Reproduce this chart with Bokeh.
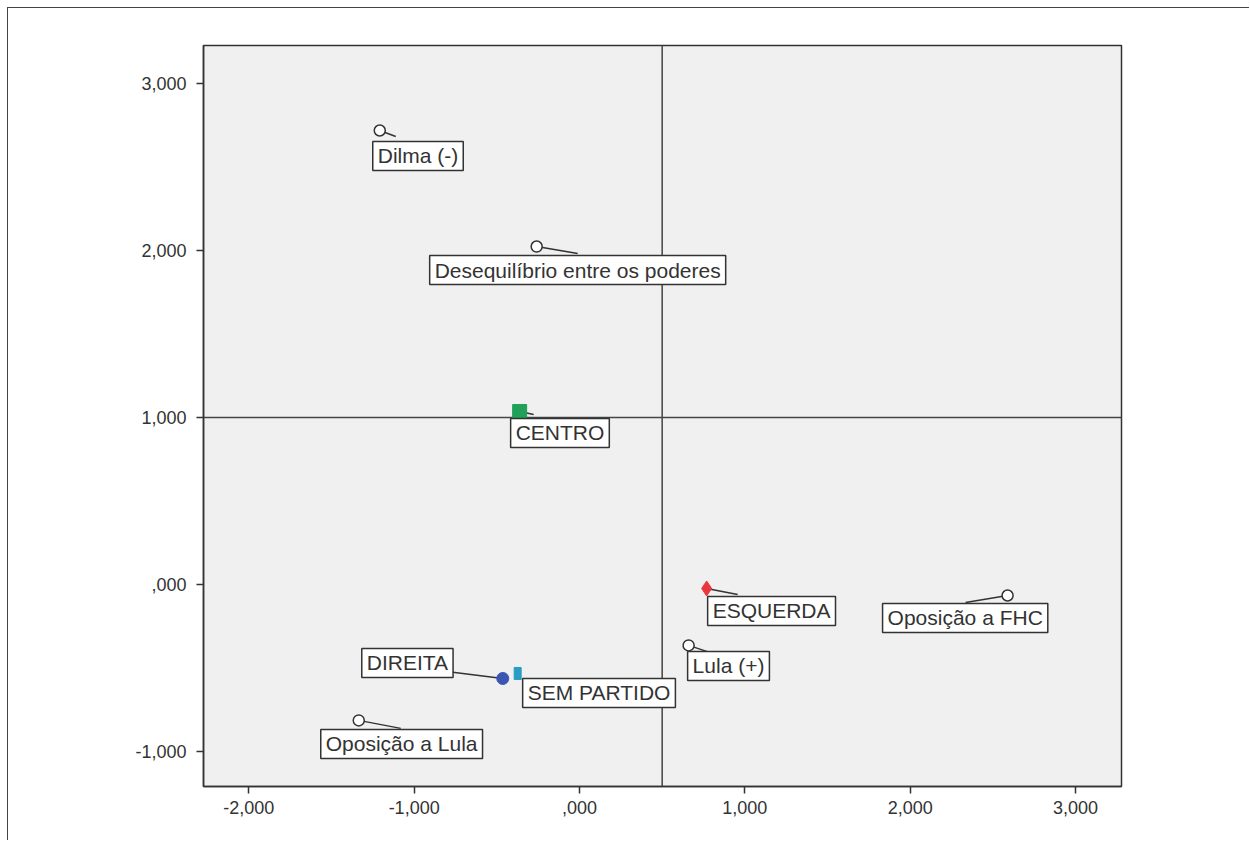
from bokeh.plotting import figure
from bokeh.models import Span, ColumnDataSource, FixedTicker
from bokeh.embed import file_html
from bokeh.resources import INLINE
from bokeh.core.properties import value

# ---------------- data ----------------
var_names = ["Dilma (-)", "Desequilíbrio entre os poderes", "Oposição a FHC",
             "Lula (+)", "Oposição a Lula"]
var_x = [-1.208, -0.259, 2.589, 0.660, -1.335]
var_y = [2.719, 2.024, -0.066, -0.365, -0.814]

party_names = ["CENTRO", "ESQUERDA", "DIREITA", "SEM PARTIDO"]
party_x = [-0.362, 0.769, -0.464, -0.374]
party_y = [1.036, -0.024, -0.563, -0.533]

x_ticks = [-2, -1, 0, 1, 2, 3]
x_tick_labels = ["-2,000", "-1,000", ",000", "1,000", "2,000", "3,000"]
y_ticks = [-1, 0, 1, 2, 3]
y_tick_labels = ["-1,000", ",000", "1,000", "2,000", "3,000"]

ref_x = 0.5
ref_y = 1.0

# ---------------- layout / style ----------------
X_RANGE = (-2.274, 3.278)
Y_RANGE = (-1.210, 3.228)
FRAME_W, FRAME_H = 918, 741
BL, BR, BT, BB = 195, 129, 37, 55

# label box top-left offset (px, right/down) relative to its point
label_off = {
    "Dilma (-)": (-7, 11),
    "Desequilíbrio entre os poderes": (-107, 9),
    "Oposição a FHC": (-125, 8),
    "Lula (+)": (-1, 6),
    "Oposição a Lula": (-38, 9),
    "CENTRO": (-9, 7),
    "ESQUERDA": (1, 8),
    "DIREITA": (-141, -30),
    "SEM PARTIDO": (5, 5),
}
# leader line end (px, right/down) relative to its point
leader_off = {
    "Dilma (-)": (16, 6),
    "Desequilíbrio entre os poderes": (41, 7),
    "Oposição a FHC": (-42, 7),
    "Lula (+)": (21, 7),
    "Oposição a Lula": (42, 8),
    "CENTRO": (14, 3),
    "ESQUERDA": (31, 6),
    "DIREITA": (-56, -7),
    "SEM PARTIDO": (0, 0),
}
party_colors = {"CENTRO": "#21a05a", "ESQUERDA": "#e8383d",
                "DIREITA": "#3a56b4", "SEM PARTIDO": "#2a9cc4"}

W = BL + FRAME_W + BR
H = BT + FRAME_H + BB

p = figure(width=W, height=H, output_backend="svg", toolbar_location=None,
           x_range=X_RANGE, y_range=Y_RANGE,
           min_border_left=BL, min_border_right=BR,
           min_border_top=BT, min_border_bottom=BB)
p.margin = (8, 0, 0, 8)
p.styles = {"box-shadow": "-1px -1px 0px 0px #444444"}
p.background_fill_color = "#f0f0f0"
p.border_fill_color = "white"
p.outline_line_color = "#333333"
p.outline_line_width = 1.5
p.grid.visible = False

for ax, ticks, labs, standoff in ((p.xaxis, x_ticks, x_tick_labels, 7),
                                  (p.yaxis, y_ticks, y_tick_labels, 10)):
    ax.ticker = FixedTicker(ticks=ticks)
    ax.major_label_overrides = {t: l for t, l in zip(ticks, labs)}
    ax.minor_tick_line_color = None
    ax.major_tick_in = 0
    ax.major_tick_out = 7
    ax.major_tick_line_color = "#333333"
    ax.major_tick_line_width = 1.5
    ax.axis_line_color = "#333333"
    ax.axis_line_width = 1.5
    ax.major_label_text_font = "Liberation Sans"
    ax.major_label_text_font_size = "18px"
    ax.major_label_text_color = "#333333"
    ax.major_label_standoff = standoff

p.add_layout(Span(location=ref_x, dimension="height", line_color="#444444",
                  line_width=1.5, level="underlay"))
p.add_layout(Span(location=ref_y, dimension="width", line_color="#444444",
                  line_width=1.5, level="underlay"))

sx = FRAME_W / (X_RANGE[1] - X_RANGE[0])
sy = FRAME_H / (Y_RANGE[1] - Y_RANGE[0])

all_names = var_names + party_names
all_x = var_x + party_x
all_y = var_y + party_y

# leader lines
x1 = [x + leader_off[n][0] / sx for n, x in zip(all_names, all_x)]
y1 = [y - leader_off[n][1] / sy for n, y in zip(all_names, all_y)]
p.segment(x0=all_x, y0=all_y, x1=x1, y1=y1, line_color="#333333", line_width=1.5)

# markers
p.scatter(x=var_x, y=var_y, marker="circle", size=11, fill_color="white",
          line_color="#333333", line_width=1.5)
p.scatter(x=[party_x[0]], y=[party_y[0]], marker="square", size=14,
          fill_color=party_colors["CENTRO"], line_color=party_colors["CENTRO"])
p.scatter(x=[party_x[1]], y=[party_y[1]], marker="diamond", size=15,
          fill_color=party_colors["ESQUERDA"], line_color=party_colors["ESQUERDA"])
p.scatter(x=[party_x[2]], y=[party_y[2]], marker="circle", size=12,
          fill_color=party_colors["DIREITA"], line_color=party_colors["DIREITA"])
p.rect(x=[party_x[3]], y=[party_y[3]], width=7, height=12,
       width_units="screen", height_units="screen",
       fill_color=party_colors["SEM PARTIDO"], line_color=party_colors["SEM PARTIDO"])

# labels
src = ColumnDataSource(dict(
    x=all_x, y=all_y, text=all_names,
    xo=[label_off[n][0] for n in all_names],
    yo=[label_off[n][1] for n in all_names],
))
p.text(x="x", y="y", text="text", x_offset="xo", y_offset="yo", source=src,
       anchor="top_left", text_font=value("Liberation Sans"),
       text_font_size="21px", text_color="#333333",
       background_fill_color="white", border_line_color="#333333",
       border_line_width=1.5, padding=dict(x=5, y=3))

open("out.html", "w").write(file_html(p, INLINE))
